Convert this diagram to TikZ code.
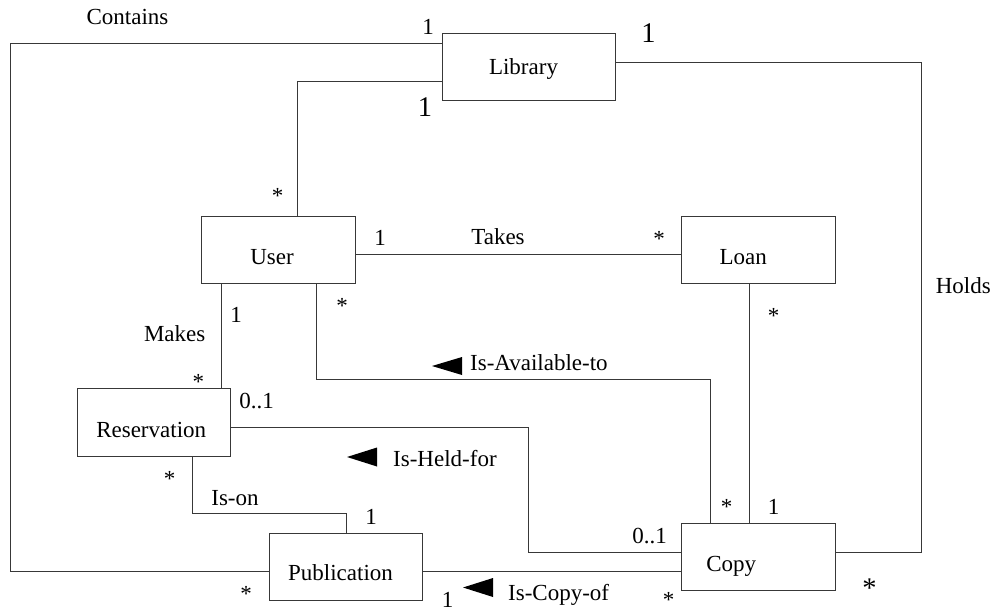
\documentclass[tikz,border=0pt]{standalone}
\usepackage{fontspec}
\setmainfont{Liberation Serif}
\begin{document}
\begin{tikzpicture}[x=1pt,y=-1pt,
  line/.style={draw=black!78, line width=0.9pt},
  classbox/.style={line, rectangle, inner sep=0pt, minimum width=153.6pt, minimum height=67.3pt},
  txt/.style={anchor=base, inner sep=0pt, font=\fontsize{23}{27}\selectfont},
  bigtxt/.style={anchor=base, inner sep=0pt, font=\fontsize{28.5}{32}\selectfont},
  dirmark/.style={fill=black}]

% canvas
\fill[white] (0,0) rectangle (998,613);
\useasboundingbox (0,0) rectangle (998,613);

% classes
\node[classbox, minimum width=173pt] (lib)  at (528.5,67)    {};
\node[classbox] (user) at (278.5,249.7) {};
\node[classbox] (loan) at (758.5,249.7) {};
\node[classbox] (res)  at (153.9,422.5) {};
\node[classbox] (pub)  at (345.9,566.7) {};
\node[classbox] (copy) at (758.5,557)   {};

% class names
\node[txt] (libname)  at (523.5,74)  {Library};
\node[txt] (username) at (272,264)   {User};
\node[txt] (loanname) at (743.3,264) {Loan};
\node[txt] (resname)  at (151.2,437.3) {Reservation};
\node[txt] (pubname)  at (340.5,580.5) {Publication};
\node[txt] (copyname) at (731.3,571) {Copy};

% bend points of the associations
\coordinate (cA)  at (10,43.3);
\coordinate (cB)  at (10,571.7);
\coordinate (luA) at (297.7,81.7);
\coordinate (hA)  at (921.7,62.3);
\coordinate (hB)  at (921.7,552.3);
\coordinate (tk)  at (500,254.3);
\coordinate (lc)  at (749,400);
\coordinate (avA) at (316.7,379.3);
\coordinate (avB) at (710.7,379.3);
\coordinate (mk)  at (221,350);
\coordinate (hfA) at (528.3,427.3);
\coordinate (hfB) at (528.3,552.3);
\coordinate (ioA) at (192.3,513.7);
\coordinate (ioB) at (346,513.7);
\coordinate (cp)  at (500,571.7);

% associations
\draw[line] (lib.west |- cA) -- (cA) -- (cB) -- (pub.west |- cB);          % Contains
\draw[line] (lib.west |- luA) -- (luA) -- (luA |- user.north);              % Library - User
\draw[line] (lib.east |- hA) -- (hA) -- (hB) -- (copy.east |- hB);          % Holds
\draw[line] (user.east |- tk) -- (loan.west |- tk);                         % Takes
\draw[line] (loan.south -| lc) -- (copy.north -| lc);                       % Loan - Copy
\draw[line] (user.south -| avA) -- (avA) -- (avB) -- (copy.north -| avB);   % Is-Available-to
\draw[line] (user.south -| mk) -- (res.north -| mk);                        % Makes
\draw[line] (res.east |- hfA) -- (hfA) -- (hfB) -- (copy.west |- hfB);      % Is-Held-for
\draw[line] (res.south -| ioA) -- (ioA) -- (ioB) -- (pub.north -| ioB);     % Is-on
\draw[line] (pub.east |- cp) -- (copy.west |- cp);                          % Is-Copy-of

% reading-direction triangles
\fill[dirmark] (432,366) -- (462,357) -- (462,375) -- cycle;
\fill[dirmark] (347,457) -- (377,447.5) -- (377,466.5) -- cycle;
\fill[dirmark] (463,587.5) -- (493,578) -- (493,597) -- cycle;

% association names
\node[txt] (contains) at (127.5,24)  {Contains};
\node[txt] (takes)    at (498,244)   {Takes};
\node[txt] (holds)    at (963.3,293) {Holds};
\node[txt] (makes)    at (174.7,341.7) {Makes};
\node[txt, anchor=base west] (avail) at (470,370) {Is-Available-to};
\node[txt, anchor=base west] (held)  at (393,466.5) {Is-Held-for};
\node[txt] (ison)     at (235,505)   {Is-on};
\node[txt, anchor=base west] (copyof) at (508,600) {Is-Copy-of};

% multiplicities
\node[txt]    (m1)  at (428,34)     {1};
\node[bigtxt] (m2)  at (425,116)    {1};
\node[bigtxt] (m3)  at (648.5,42)   {1};
\node[txt]    (m4)  at (277.5,203)  {*};
\node[txt]    (m5)  at (380,245)    {1};
\node[txt]    (m6)  at (659,246)    {*};
\node[txt]    (m7)  at (773.5,323)  {*};
\node[txt]    (m8)  at (342,313)    {*};
\node[txt]    (m9)  at (236,322)    {1};
\node[txt]    (m10) at (198.3,389)  {*};
\node[txt]    (m11) at (256.7,408)  {0..1};
\node[txt]    (m12) at (169.5,486)  {*};
\node[txt]    (m13) at (371,524)    {1};
\node[txt]    (m14) at (246,601)    {*};
\node[txt]    (m15) at (447.5,607.5) {1};
\node[txt]    (m16) at (649.5,543)  {0..1};
\node[txt]    (m17) at (726.5,514)  {*};
\node[txt]    (m18) at (773.5,514)  {1};
\node[bigtxt] (m19) at (869.5,597)  {*};
\node[txt]    (m20) at (668.5,607.5) {*};
\end{tikzpicture}
\end{document}
